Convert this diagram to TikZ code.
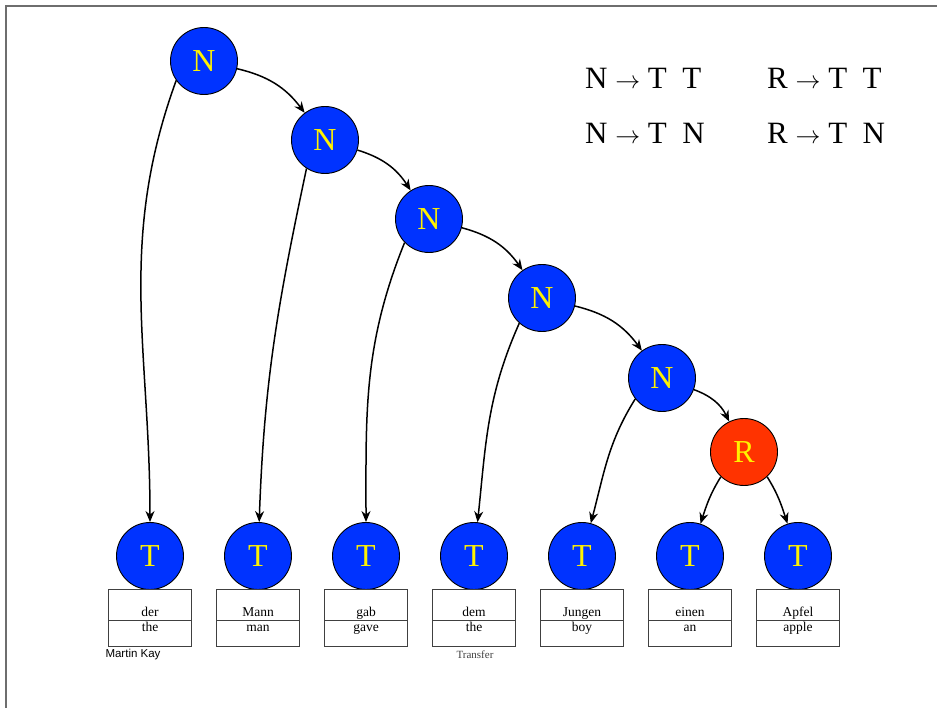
\documentclass[tikz,border=0pt]{standalone}
\usepackage{fontspec}
\setmainfont{Liberation Serif}
\newfontfamily\kayfont{Liberation Sans}
\usetikzlibrary{arrows.meta}
\definecolor{nblue}{RGB}{0,51,255}
\definecolor{rred}{RGB}{255,51,0}
\definecolor{framegray}{RGB}{110,110,110}
\tikzset{
  nd/.style={circle, draw, line width=0.9pt, fill=nblue, minimum size=67pt, inner sep=0pt,
    text=yellow, font=\fontsize{32}{32}\selectfont},
  wbox/.style={draw=black!75, line width=1pt, minimum width=83pt, minimum height=57pt, inner sep=0pt},
  wtext/.style={inner sep=0pt, font=\fontsize{13.5}{13.5}\selectfont},
  arc/.style={-{Stealth[length=11pt,width=9pt]}, line width=1.5pt},
  rule/.style={anchor=west, inner sep=0pt, font=\fontsize{31}{31}\selectfont},
}
\begin{document}
\begin{tikzpicture}[x=1pt,y=1pt]
\useasboundingbox (0,0) rectangle (937,708);
\draw[framegray, line width=1.5pt] (6,0) -- (6,702) -- (937,702);
% spine of the tree
\node[nd] (n1) at (204,647){N};
\node[nd] (n2) at (325,568){N};
\node[nd] (n3) at (429,489){N};
\node[nd] (n4) at (542,410){N};
\node[nd] (n5) at (662,330){N};
\node[nd, fill=rred] (r) at (744,256){R};
% leaves with their words
\foreach \i/\x/\de/\en in {1/150/der/the, 2/258/Mann/man, 3/366/gab/gave,
    4/474/dem/the, 5/582/Jungen/boy, 6/690/einen/an, 7/798/Apfel/apple}{
  \node[nd] (t\i) at (\x,152){T};
  \node[wbox] (b\i) at (\x,89.5){};
  \draw[black!75, line width=1pt] (b\i.west |- 0,87) -- (b\i.east |- 0,87);
  \node[wtext, anchor=base] (de\i) at (\x,91){\de};
  \node[wtext, anchor=base] (en\i) at (\x,76){\en};
}
\draw[arc] (n1) to[bend left=20] (n2);
\draw[arc] (n2) to[bend left=20] (n3);
\draw[arc] (n3) to[bend left=20] (n4);
\draw[arc] (n4) to[bend left=20] (n5);
\draw[arc] (n5) to[bend left=22] (r);
\draw[arc] (n1.215) to[out=-110, in=90] (t1);
\draw[arc] (n2.237) to[out=-102, in=88] (t2);
\draw[arc] (n3.224) to[out=-112, in=90] (t3);
\draw[arc] (n4.228) to[out=-114, in=84] (t4);
\draw[arc] (n5.218) to[out=-122, in=75] (t5);
\draw[arc] (r.227) to[out=-122, in=72] (t6);
\draw[arc] (r.313) to[out=-58, in=108] (t7);
% grammar
\node[rule] (g1) at (585,630){N $\rightarrow$ T\enspace T};
\node[rule] (g2) at (767,630){R $\rightarrow$ T\enspace T};
\node[rule] (g3) at (585,575){N $\rightarrow$ T\enspace N};
\node[rule] (g4) at (767,575){R $\rightarrow$ T\enspace N};
\node[font=\kayfont\fontsize{11.5}{11.5}\selectfont] (kay) at (133,53){Martin Kay};
\node[text=darkgray, font=\fontsize{11}{11}\selectfont] (tr) at (475,53){Transfer};
\end{tikzpicture}
\end{document}
